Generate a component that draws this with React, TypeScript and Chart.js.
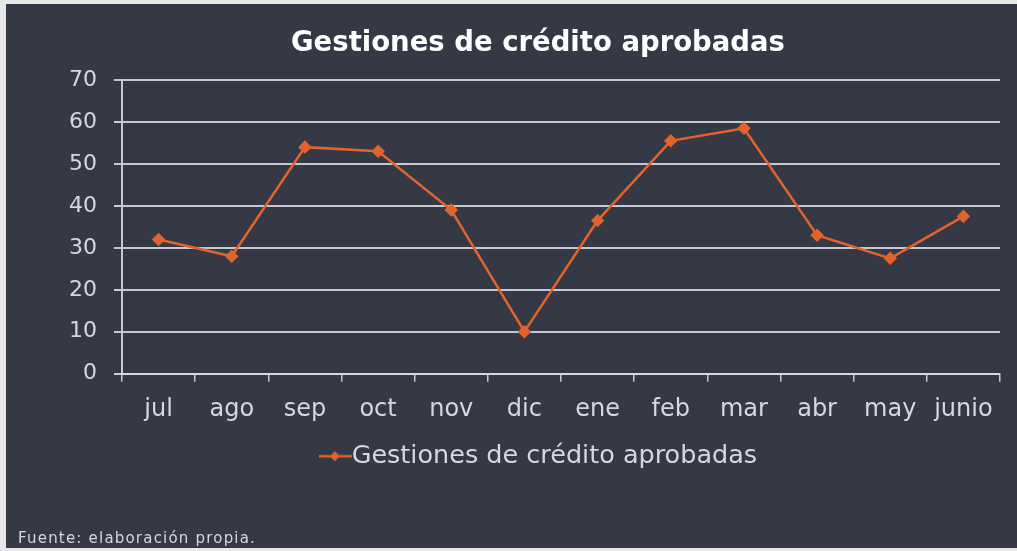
import React, { useEffect, useRef } from "react";
import { Chart, registerables } from "chart.js";

Chart.register(...registerables);

const TITLE = "Gestiones de crédito aprobadas";
const SERIES_LABEL = "Gestiones de crédito aprobadas";
const SOURCE_NOTE = "Fuente: elaboración propia.";
const CATEGORIES = ["jul", "ago", "sep", "oct", "nov", "dic", "ene", "feb", "mar", "abr", "may", "junio"];
const VALUES = [32, 28, 54, 53, 39, 10, 36.5, 55.5, 58.5, 33, 27.5, 37.5];
const Y_MIN = 0;
const Y_MAX = 70;
const Y_STEP = 10;

const FONT = '"DejaVu Sans", sans-serif';
const LINE_COLOR = "#e2632b";
const TEXT_COLOR = "#d6d8dd";
const GRID_COLOR = "rgba(214,217,224,0.9)";
const BG = "#353946";

function makeLegendMarker(): HTMLCanvasElement {
  const c = document.createElement("canvas");
  c.width = 46;
  c.height = 14;
  const ctx = c.getContext("2d")!;
  ctx.strokeStyle = LINE_COLOR;
  ctx.lineWidth = 2.5;
  ctx.beginPath();
  ctx.moveTo(13, 7);
  ctx.lineTo(46, 7);
  ctx.stroke();
  ctx.fillStyle = LINE_COLOR;
  ctx.beginPath();
  ctx.moveTo(29, 2);
  ctx.lineTo(34, 7);
  ctx.lineTo(29, 12);
  ctx.lineTo(24, 7);
  ctx.closePath();
  ctx.fill();
  return c;
}

const footerPlugin = {
  id: "footerNote",
  afterLayout(chart: any) {
    // let the y tick labels extend left of the scale box without being clipped
    const y = chart.scales.y;
    if (y) y.left = 0;
  },
  afterDraw(chart: any) {
    const ctx = chart.ctx;
    ctx.save();
    ctx.font = `15px ${FONT}`;
    try {
      (ctx as any).letterSpacing = "1.2px";
    } catch (e) {}
    ctx.fillStyle = TEXT_COLOR;
    ctx.textBaseline = "middle";
    ctx.textAlign = "left";
    ctx.fillText(SOURCE_NOTE, 12, 535);
    ctx.restore();
  },
};

export default function App() {
  const ref = useRef<HTMLCanvasElement | null>(null);

  useEffect(() => {
    if (!ref.current) return;
    const marker = makeLegendMarker();
    const chart = new Chart(ref.current, {
      type: "line",
      data: {
        labels: CATEGORIES,
        datasets: [
          {
            label: SERIES_LABEL,
            data: VALUES,
            borderColor: LINE_COLOR,
            backgroundColor: LINE_COLOR,
            borderWidth: 2.5,
            pointStyle: "rectRot",
            pointRadius: 5,
            pointBackgroundColor: LINE_COLOR,
            pointBorderColor: LINE_COLOR,
            tension: 0,
          },
        ],
      },
      options: {
        responsive: false,
        animation: false,
        layout: { padding: { top: 0, left: 70, right: 17, bottom: 69 } },
        plugins: {
          title: {
            display: true,
            text: TITLE,
            color: "#ffffff",
            font: { family: FONT, size: 27.5, weight: "bold" },
            padding: { top: 23, bottom: 20 },
          },
          legend: {
            display: true,
            position: "bottom",
            labels: {
              usePointStyle: true,
              pointStyle: marker as any,
              pointStyleWidth: 20,
              color: TEXT_COLOR,
              font: { family: FONT, size: 25.5 },
              padding: 5,
            },
          },
          tooltip: { enabled: false },
        },
        scales: {
          x: {
            offset: true,
            grid: {
              offset: true,
              drawOnChartArea: false,
              drawTicks: true,
              tickLength: 8,
              color: GRID_COLOR,
              lineWidth: 1.5,
            },
            border: { display: true, color: GRID_COLOR, width: 2 },
            ticks: {
              color: TEXT_COLOR,
              font: { family: FONT, size: 24 },
              padding: 14,
              maxRotation: 0,
              autoSkip: false,
            },
          },
          y: {
            min: Y_MIN,
            max: Y_MAX,
            afterFit(scale: any) {
              scale.width = 46;
            },
            grid: {
              color: GRID_COLOR,
              lineWidth: 2,
              drawTicks: true,
              tickLength: 8,
            },
            border: { display: true, color: GRID_COLOR, width: 2 },
            ticks: {
              stepSize: Y_STEP,
              color: TEXT_COLOR,
              font: { family: FONT, size: 22 },
              padding: 17,
            },
          },
        },
      },
      plugins: [footerPlugin],
    });
    return () => chart.destroy();
  }, []);

  return (
    <div
      style={{
        position: "fixed",
        left: 0,
        top: 0,
        width: 1017,
        height: 551,
        background: "#e8e8e8",
        overflow: "hidden",
      }}
    >
      <div
        style={{
          position: "absolute",
          left: 6,
          top: 4,
          width: 1011,
          height: 544,
          background: BG,
        }}
      >
        <canvas ref={ref} width={1011} height={544} style={{ display: "block" }} />
      </div>
    </div>
  );
}
